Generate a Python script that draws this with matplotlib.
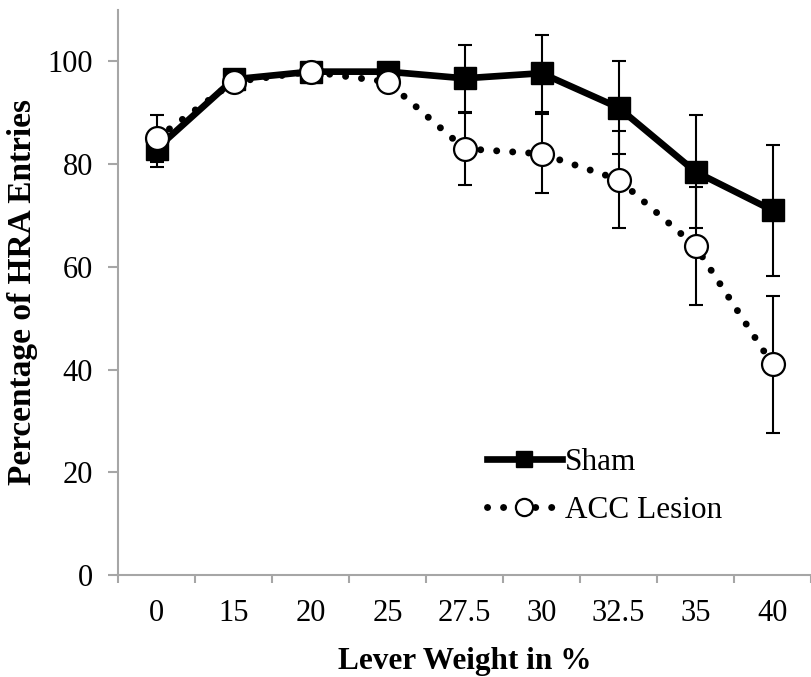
import matplotlib
matplotlib.use('Agg')
import matplotlib.pyplot as plt
import numpy as np

plt.rcParams['font.family'] = ['Liberation Serif', 'DejaVu Serif']

# lever weight categories (x axis labels)
weights = ['0', '15', '20', '25', '27.5', '30', '32.5', '35', '40']

# mean percentage of HRA entries and error
sham = [83, 96.5, 98, 98, 96.7, 97.7, 91, 78.5, 71]
sham_err = [3.6, 1.5, 1.5, 1.5, 6.5, 7.5, 9, 11, 12.7]
acc = [85, 96, 98, 96, 83, 82, 77, 64, 41]
acc_err = [4.5, 1.5, 1.5, 1.5, 7, 7.7, 9.5, 11.5, 13.3]

x = np.arange(len(weights))
grey = '#a6a6a6'

fig = plt.figure(figsize=(8.11, 6.77), dpi=100)
ax = fig.add_axes([0.1455, 0.1507, 0.8545, 0.8345])

# error bars behind the lines
ax.errorbar(x, sham, yerr=sham_err, fmt='none', ecolor='black',
            elinewidth=1.5, capsize=5, capthick=1.5, zorder=1)
ax.errorbar(x, acc, yerr=acc_err, fmt='none', ecolor='black',
            elinewidth=1.5, capsize=5, capthick=1.5, zorder=1)

ax.plot(x, sham, color='black', lw=4.8, marker='s', ms=15.5,
        mfc='black', mec='black', label='Sham', zorder=3)
ax.plot(x, acc, color='black', lw=5, ls=(0, (0.01, 2.3)),
        dash_capstyle='round', marker='o', ms=16.5, mfc='white',
        mec='black', mew=1.6, label='ACC Lesion', zorder=4)

ax.set_xlim(-0.5, len(weights) - 0.5)
ax.set_ylim(0, 110)
ax.set_yticks([0, 20, 40, 60, 80, 100])

# major ticks at category boundaries, labels at category centres
ax.set_xticks(np.arange(len(weights) + 1) - 0.5)
ax.set_xticklabels([])
ax.set_xticks(x, minor=True)
ax.set_xticklabels(weights, minor=True)
ax.tick_params(axis='x', which='major', direction='out', length=6,
               width=1.5, color=grey)
ax.tick_params(axis='x', which='minor', length=0, pad=17, labelsize=22)
ax.tick_params(axis='y', direction='out', length=7, width=1.5,
               color=grey, pad=11, labelsize=22)

for s in ['top', 'right']:
    ax.spines[s].set_visible(False)
for s in ['left', 'bottom']:
    ax.spines[s].set_color(grey)
    ax.spines[s].set_linewidth(1.5)

ax.set_xlabel('Lever Weight in %', fontsize=22.5, fontweight='bold', labelpad=14)
ax.set_ylabel('Percentage of HRA Entries', fontsize=24, fontweight='bold',
              labelpad=7)

ax.legend(loc='center left', bbox_to_anchor=(0.6, 0.281),
          bbox_transform=fig.transFigure, frameon=False, fontsize=22.5,
          handlelength=2.4, handletextpad=0.1, labelspacing=0.6,
          borderpad=0, borderaxespad=0, markerscale=0.75)

fig.savefig('out.png', dpi=100)
